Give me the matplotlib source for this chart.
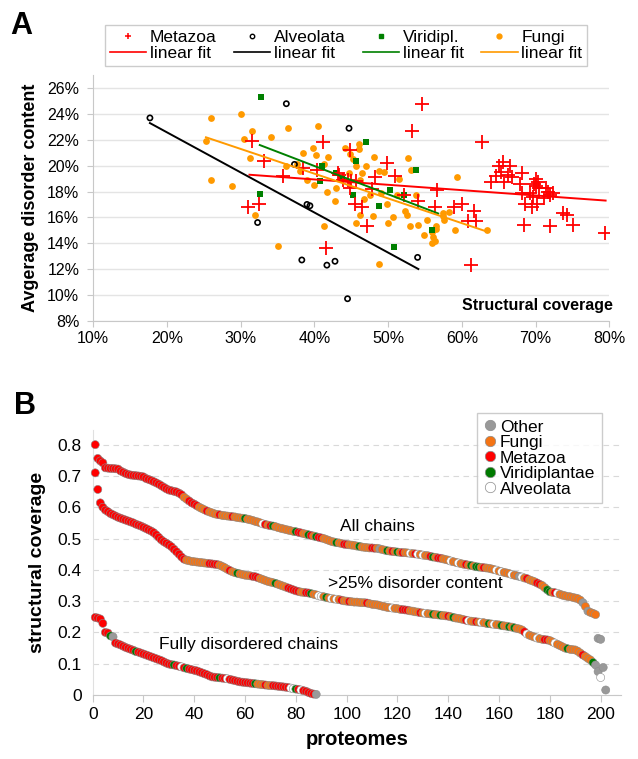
import numpy as np
import matplotlib
matplotlib.use("Agg")
import matplotlib.pyplot as plt
from matplotlib.lines import Line2D
from matplotlib.ticker import FuncFormatter

plt.rcParams['font.family'] = ['Liberation Sans', 'DejaVu Sans']

########################################################################################################################
# Panel A data: structural coverage (%) vs average disorder content (%)
########################################################################################################################

metazoa_x = [31.0, 31.6, 32.5, 33.2, 35.7, 38.4, 40.3, 41.2, 41.6, 43.2, 43.4, 43.9, 44.6, 44.8, 44.9, 45.0,
             45.5, 45.7, 46.4, 47.2, 47.8, 48.2, 49.9, 51.0, 52.2, 53.3, 54.1, 54.6, 56.3, 56.7, 58.9, 60.0,
             60.8, 61.3, 61.7, 61.9, 62.8, 64.0, 64.7, 65.0, 65.6, 65.3, 65.7, 66.5, 66.3, 66.8, 67.9, 68.1,
             68.2, 68.5, 68.6, 69.3, 69.5, 69.6, 69.8, 70.0, 70.1, 70.2, 70.4, 70.3, 71.2, 71.4, 71.7, 72.0,
             72.0, 72.3, 73.7, 74.2, 75.1, 79.4]
metazoa_y = [16.8, 21.9, 17.0, 20.4, 19.2, 19.8, 19.7, 21.8, 13.6, 19.4, 19.3, 18.9, 18.9, 18.3, 21.2, 18.8,
             17.0, 18.8, 16.8, 15.3, 18.2, 19.1, 20.2, 19.2, 17.7, 22.7, 17.3, 24.8, 16.8, 18.1, 16.8, 17.0,
             15.7, 12.3, 16.5, 15.7, 21.8, 18.7, 19.2, 20.0, 20.3, 19.5, 18.7, 20.0, 19.3, 19.1, 18.6, 17.9,
             19.4, 15.4, 17.0, 17.9, 16.8, 17.6, 18.6, 18.4, 19.0, 17.0, 18.3, 18.7, 17.5, 18.3, 18.0, 15.3,
             17.7, 17.9, 16.3, 16.2, 15.4, 14.8]

alveolata_x = [17.7, 32.3, 36.2, 37.3, 38.3, 39.0, 39.4, 41.7, 42.8, 44.5, 44.7, 54.0]
alveolata_y = [23.7, 15.6, 24.8, 20.1, 12.7, 17.0, 16.9, 12.3, 12.6, 9.7, 22.9, 12.9]

viridi_x = [32.6, 32.8, 40.8, 41.1, 42.9, 43.8, 45.3, 45.7, 47.0, 48.7, 50.2, 50.8, 52.2, 53.8, 55.9]
viridi_y = [17.8, 25.3, 18.8, 20.0, 19.4, 19.0, 17.7, 20.4, 21.8, 16.9, 18.1, 13.7, 17.7, 19.7, 15.0]

fungi_x = [25.3, 26.0, 26.0, 28.8, 30.1, 30.4, 31.3, 31.5, 31.9, 34.1, 35.1, 36.2, 36.4, 37.7, 38.1, 38.5,
           39.0, 39.8, 40.0, 40.2, 40.5, 41.3, 41.3, 41.7, 41.9, 42.8, 44.2, 44.8, 45.2, 44.7, 46.0, 46.1,
           45.6, 46.2, 47.0, 46.4, 48.1, 48.8, 49.4, 52.7, 53.1, 51.5, 59.4, 46.8, 47.5, 49.9, 51.2, 52.3,
           52.5, 53.8, 46.2, 45.6, 47.9, 50.6, 50.0, 53.0, 54.0, 55.3, 54.9, 55.9, 56.1, 56.5, 56.5, 55.9,
           56.4, 57.4, 57.5, 57.6, 58.2, 59.1, 63.4, 48.7, 49.0, 43.0]
fungi_y = [21.9, 23.7, 18.9, 18.4, 24.0, 22.1, 20.6, 22.7, 16.2, 22.2, 13.8, 20.0, 22.9, 20.1, 19.6, 21.0,
           18.9, 21.4, 18.5, 20.8, 23.1, 15.3, 20.1, 18.0, 20.7, 17.3, 21.4, 20.9, 20.5, 19.4, 21.7, 21.3,
           20.0, 18.9, 20.0, 19.4, 20.7, 19.6, 19.5, 20.6, 19.7, 19.0, 19.1, 17.4, 17.7, 17.0, 17.7, 16.5,
           16.2, 17.7, 16.2, 15.6, 16.1, 16.0, 15.6, 15.3, 15.4, 15.8, 14.6, 14.9, 14.5, 15.3, 15.1, 14.0,
           14.2, 16.3, 16.1, 15.8, 16.4, 15.0, 15.0, 12.4, 17.9, 18.3]

# linear fit segments (start/end coverage and disorder values)
fit_names = ['Metazoa', 'Alveolata', 'Viridipl.', 'Fungi']
fit_x0 = [31.2, 17.7, 32.6, 25.3]
fit_x1 = [79.5, 54.1, 56.8, 63.4]
fit_y0 = [19.3, 23.3, 21.6, 22.2]
fit_y1 = [17.3, 12.0, 16.3, 14.9]

########################################################################################################################
# Panel B data: structural coverage per proteome (sorted), category codes per point
# M = Metazoa, F = Fungi, V = Viridiplantae, A = Alveolata, O = Other
########################################################################################################################

all_chains = [0.800, 0.756, 0.748, 0.742, 0.726, 0.725, 0.724, 0.724, 0.723, 0.722,
              0.716, 0.712, 0.708, 0.705, 0.703, 0.702, 0.701, 0.700, 0.699, 0.697,
              0.692, 0.689, 0.686, 0.682, 0.678, 0.674, 0.669, 0.664, 0.659, 0.655,
              0.653, 0.651, 0.649, 0.645, 0.640, 0.632, 0.626, 0.620, 0.614, 0.610,
              0.605, 0.600, 0.596, 0.592, 0.588, 0.585, 0.582, 0.579, 0.577, 0.576,
              0.574, 0.573, 0.572, 0.571, 0.570, 0.569, 0.567, 0.566, 0.565, 0.564,
              0.562, 0.560, 0.558, 0.555, 0.553, 0.550, 0.547, 0.545, 0.543, 0.541,
              0.540, 0.538, 0.535, 0.533, 0.531, 0.529, 0.527, 0.525, 0.523, 0.522,
              0.520, 0.518, 0.516, 0.514, 0.512, 0.510, 0.508, 0.506, 0.504, 0.502,
              0.500, 0.497, 0.494, 0.491, 0.489, 0.487, 0.486, 0.484, 0.482, 0.481,
              0.480, 0.479, 0.478, 0.476, 0.475, 0.473, 0.472, 0.471, 0.470, 0.470,
              0.469, 0.469, 0.467, 0.465, 0.463, 0.461, 0.460, 0.459, 0.458, 0.457,
              0.456, 0.455, 0.455, 0.454, 0.453, 0.452, 0.451, 0.450, 0.449, 0.447,
              0.446, 0.445, 0.443, 0.441, 0.440, 0.438, 0.437, 0.435, 0.433, 0.431,
              0.428, 0.426, 0.424, 0.422, 0.420, 0.418, 0.417, 0.415, 0.414, 0.412,
              0.410, 0.409, 0.408, 0.407, 0.406, 0.405, 0.403, 0.401, 0.399, 0.396,
              0.394, 0.392, 0.390, 0.388, 0.385, 0.383, 0.381, 0.379, 0.377, 0.374,
              0.372, 0.368, 0.365, 0.362, 0.358, 0.354, 0.350, 0.343, 0.336, 0.330,
              0.328, 0.327, 0.325, 0.322, 0.319, 0.317, 0.315, 0.314, 0.312, 0.310,
              0.308, 0.303, 0.295, 0.283, 0.268, 0.264, 0.261, 0.257, 0.181, 0.178]
all_cats = ("MMMMMMMMMM" "MMMMMMMMMM" "MMMMMMMMMM" "MMMMMFFMMM" "MFFFMFFFFM"
            "FFFFMFFFFV" "FFFFFFAMFM" "VFFFFFFFFV" "MMFFVMFVMM" "FFFFFVFFMM"
            "FFFFVFFFFM" "MFOFFVFMFV" "FMFFAFMAFA" "FFMVFMMFFF" "AFFAFFMFVF"
            "VVFMFFFFAF" "AFFFAFFOAF" "MFFFMMFFVV" "FMAFFFFFFF" "FFOFOFFFOO")

disorder25 = [0.710, 0.657, 0.614, 0.600, 0.591, 0.586, 0.580, 0.576, 0.572, 0.568,
              0.565, 0.562, 0.559, 0.556, 0.553, 0.550, 0.546, 0.543, 0.540, 0.536,
              0.532, 0.528, 0.524, 0.519, 0.512, 0.504, 0.496, 0.490, 0.485, 0.480,
              0.474, 0.466, 0.458, 0.450, 0.441, 0.434, 0.431, 0.429, 0.427, 0.426,
              0.425, 0.424, 0.423, 0.422, 0.421, 0.420, 0.419, 0.418, 0.417, 0.415,
              0.411, 0.407, 0.402, 0.398, 0.394, 0.391, 0.389, 0.387, 0.385, 0.383,
              0.382, 0.381, 0.379, 0.378, 0.375, 0.372, 0.369, 0.366, 0.363, 0.361,
              0.359, 0.357, 0.354, 0.351, 0.348, 0.345, 0.342, 0.339, 0.336, 0.333,
              0.331, 0.329, 0.328, 0.327, 0.326, 0.324, 0.322, 0.320, 0.317, 0.315,
              0.314, 0.312, 0.310, 0.308, 0.307, 0.306, 0.305, 0.303, 0.301, 0.300,
              0.299, 0.298, 0.297, 0.297, 0.296, 0.295, 0.295, 0.294, 0.292, 0.290,
              0.289, 0.288, 0.286, 0.284, 0.282, 0.280, 0.279, 0.278, 0.277, 0.276,
              0.274, 0.273, 0.272, 0.271, 0.269, 0.268, 0.266, 0.265, 0.263, 0.262,
              0.261, 0.260, 0.259, 0.258, 0.257, 0.256, 0.255, 0.254, 0.253, 0.252,
              0.250, 0.248, 0.246, 0.245, 0.243, 0.241, 0.239, 0.237, 0.236, 0.235,
              0.234, 0.233, 0.232, 0.231, 0.229, 0.228, 0.227, 0.226, 0.225, 0.224,
              0.222, 0.221, 0.220, 0.218, 0.217, 0.215, 0.213, 0.211, 0.208, 0.202,
              0.195, 0.191, 0.188, 0.185, 0.182, 0.180, 0.178, 0.177, 0.176, 0.174,
              0.170, 0.166, 0.162, 0.158, 0.154, 0.150, 0.148, 0.146, 0.145, 0.144,
              0.140, 0.134, 0.128, 0.123, 0.117, 0.112, 0.104, 0.096, 0.075, 0.056,
              0.088, 0.016]
disorder25_cats = ("MMMMMMMMMM" "MMMMMMMMMM" "MMMMMMMMMM" "MMMMMMFFFF" "FFFFFMMMMF"
                   "FFFMFFVFFF" "FFMMMFFFFF" "FVFFFFMMMM" "MFFMMVFFAA" "FVFAFAFMFF"
                   "MFFFFFFMFF" "FFFFFFFAFF" "FMMMFFFFMF" "AFFVFFVFFM" "FVFFFFMAFF"
                   "MFAFFVFAFF" "VFFVFVFFFM" "AFFFAFFMMF" "FAFFFFVFFF" "FFMFFFVOOA" "OO")

fully_disordered = [0.248, 0.246, 0.243, 0.229, 0.200, 0.198, 0.189, 0.186, 0.166, 0.163,
                    0.160, 0.156, 0.152, 0.149, 0.146, 0.143, 0.139, 0.137, 0.134, 0.131,
                    0.128, 0.125, 0.122, 0.119, 0.116, 0.113, 0.110, 0.106, 0.102, 0.099,
                    0.097, 0.096, 0.094, 0.092, 0.090, 0.087, 0.085, 0.083, 0.081, 0.079,
                    0.077, 0.074, 0.071, 0.068, 0.065, 0.061, 0.058, 0.057, 0.056, 0.055,
                    0.054, 0.053, 0.052, 0.050, 0.048, 0.046, 0.044, 0.042, 0.041, 0.040,
                    0.039, 0.038, 0.037, 0.036, 0.035, 0.034, 0.033, 0.032, 0.031, 0.030,
                    0.030, 0.029, 0.028, 0.027, 0.026, 0.025, 0.024, 0.022, 0.020, 0.019,
                    0.018, 0.016, 0.014, 0.012, 0.008, 0.005, 0.003, 0.002]
fully_cats = ("MMMMMMVOMM" "MMMMMMVMMM" "MMMMMMMMMM" "MVMMAMVMMM" "MMMMMMMMMV"
              "MMAMMMMMMM" "MMMVFFFMFF" "MMMMMMMAAV" "MAMMMMMO")

legend_b_names = ['Other', 'Fungi', 'Metazoa', 'Viridiplantae', 'Alveolata']
legend_b_codes = ['O', 'F', 'M', 'V', 'A']
cat_colors = {'M': '#ff0000', 'F': '#f47414', 'V': '#007a00', 'A': '#ffffff', 'O': '#999999'}

########################################################################################################################
# Figure
########################################################################################################################

fig = plt.figure(figsize=(6.38, 7.59), dpi=100)
axis_gray = '#c8c8c8'

# ---------------- Panel A ----------------
ax1 = fig.add_axes([0.146, 0.5775, 0.809, 0.3233])
ax1.scatter(fungi_x, fungi_y, s=24, color='#ff9a00', zorder=3, linewidths=0)
ax1.scatter(viridi_x, viridi_y, s=22, marker='s', color='#008000', zorder=4, linewidths=0)
ax1.scatter(alveolata_x, alveolata_y, s=14, marker='o', facecolors='none', edgecolors='black',
            linewidths=1.2, zorder=4)
ax1.scatter(metazoa_x, metazoa_y, s=90, marker='+', color='#ff0000', linewidths=1.3, zorder=5)

fit_colors = ['#ff0000', '#000000', '#008000', '#ff9a00']
for i in range(len(fit_names)):
    ax1.plot([fit_x0[i], fit_x1[i]], [fit_y0[i], fit_y1[i]], color=fit_colors[i], lw=1.4, zorder=6)

ax1.set_xlim(10, 80)
ax1.set_ylim(8, 27)
ax1.set_xticks(np.arange(10, 81, 10))
ax1.set_yticks(np.arange(8, 27, 2))
ax1.xaxis.set_major_formatter(FuncFormatter(lambda v, _: '%d%%' % v))
ax1.yaxis.set_major_formatter(FuncFormatter(lambda v, _: '%d%%' % v))
ax1.grid(axis='y', color='#e4e4e4', lw=1)
ax1.set_axisbelow(True)
for side in ['top', 'right']:
    ax1.spines[side].set_visible(False)
for side in ['left', 'bottom']:
    ax1.spines[side].set_color(axis_gray)
ax1.tick_params(axis='both', colors=axis_gray, labelcolor='black', labelsize=11.5, length=4, direction='out')
ax1.tick_params(axis='y', pad=6)
ax1.set_ylabel('Avgerage disorder content', fontsize=13, fontweight='bold', labelpad=6)
ax1.text(70.2, 9.2, 'Structural coverage', fontsize=11.5, fontweight='bold', ha='center', va='center')

handles = [
    Line2D([], [], marker='+', color='#ff0000', ls='none', ms=5, mew=1.1), Line2D([], [], color='#ff0000', lw=1.2),
    Line2D([], [], marker='o', mfc='none', mec='black', ls='none', ms=3.2, mew=1), Line2D([], [], color='black', lw=1.2),
    Line2D([], [], marker='s', color='#008000', ls='none', ms=3.5), Line2D([], [], color='#008000', lw=1.2),
    Line2D([], [], marker='o', color='#ff9a00', ls='none', ms=3.5), Line2D([], [], color='#ff9a00', lw=1.2),
]
labels = ['Metazoa', 'linear fit', 'Alveolata', 'linear fit', 'Viridipl.', 'linear fit', 'Fungi', 'linear fit']
leg = fig.legend(handles, labels, ncol=4, loc='center', bbox_to_anchor=(0.5423, 0.940),
                 bbox_transform=fig.transFigure, fontsize=12.5, frameon=True, fancybox=False,
                 handlelength=2.1, handletextpad=0.2, columnspacing=1.0, labelspacing=0.05,
                 borderpad=0.3, borderaxespad=0)
leg.get_frame().set_edgecolor('#c0c0c0')
leg.get_frame().set_linewidth(1)

fig.text(0.016, 0.985, 'A', fontsize=22, fontweight='bold', ha='left', va='top')

# ---------------- Panel B ----------------
ax2 = fig.add_axes([0.1453, 0.0843, 0.828, 0.3492])
for vals, cats in [(all_chains, all_cats), (disorder25, disorder25_cats), (fully_disordered, fully_cats)]:
    x = np.arange(1, len(vals) + 1)
    cols = [cat_colors[c] for c in cats[:len(vals)].ljust(len(vals), 'F')]
    ax2.scatter(x, vals, s=34, c=cols, edgecolors='#8c8c8c', linewidths=0.4, zorder=3, clip_on=False)

ax2.set_xlim(0, 208)
ax2.set_ylim(0, 0.847)
ax2.set_xticks(np.arange(0, 201, 20))
ax2.set_yticks(np.arange(0, 0.81, 0.1))
ax2.yaxis.set_major_formatter(FuncFormatter(lambda v, _: '0' if abs(v) < 1e-9 else '%.1f' % v))
ax2.grid(axis='y', color='#d9d9d9', lw=0.8, ls=(0, (5, 4)))
ax2.set_axisbelow(True)
for side in ['top', 'right']:
    ax2.spines[side].set_visible(False)
ax2.spines['left'].set_color('#e0e0e0')
ax2.spines['bottom'].set_color(axis_gray)
ax2.tick_params(axis='x', colors=axis_gray, labelcolor='black', labelsize=12.5, length=5, direction='out')
ax2.tick_params(axis='y', length=0, labelsize=12.5, pad=8)
ax2.set_xlabel('proteomes', fontsize=14.5, fontweight='bold', labelpad=6)
ax2.set_ylabel('structural coverage', fontsize=14, fontweight='bold', labelpad=8)

ax2.text(112, 0.537, 'All chains', fontsize=12.5, ha='center', va='center')
ax2.text(127, 0.355, '>25% disorder content', fontsize=12.5, ha='center', va='center')
ax2.text(61.5, 0.160, 'Fully disordered chains', fontsize=12.5, ha='center', va='center')

handles_b = [Line2D([], [], marker='o', ls='none', ms=7.5, mfc=cat_colors[c], mec='#8c8c8c', mew=0.5)
             for c in legend_b_codes]
leg_b = fig.legend(handles_b, legend_b_names, loc='center', bbox_to_anchor=(0.845, 0.3966),
                   bbox_transform=fig.transFigure, fontsize=12.5, frameon=True, fancybox=False,
                   handlelength=0.8, handletextpad=0.2, labelspacing=0.02, borderpad=0.35, borderaxespad=0)
leg_b.get_frame().set_edgecolor('#c0c0c0')
leg_b.get_frame().set_linewidth(1)

fig.text(0.022, 0.485, 'B', fontsize=22, fontweight='bold', ha='left', va='top')

fig.savefig('out.png', dpi=100)
